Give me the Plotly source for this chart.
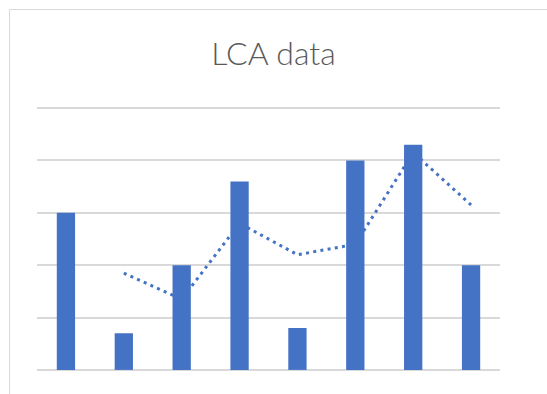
import pandas as pd
import plotly.graph_objects as go

# Sample values
samples = [1, 2, 3, 4, 5, 6, 7, 8]
values = [3, 0.7, 2, 3.6, 0.8, 4, 4.3, 2]
y_ticks = [0, 1, 2, 3, 4, 5]

# Two-period moving-average trendline
trend = pd.Series(values).rolling(2).mean()

BLUE = "#4472C4"
GRID = "#D9D9D9"

W, H = 547, 394
L, R, T, B = 37, 47, 106, 22
Y_MIN, Y_MAX = -0.04, 5.04

fig = go.Figure()

fig.add_trace(go.Scatter(
    x=samples, y=trend,
    mode="lines",
    line=dict(color=BLUE, width=3, dash="3px,4.3px"),
    hoverinfo="skip",
    showlegend=False,
    zorder=0,
))

fig.add_trace(go.Bar(
    x=samples, y=values,
    marker=dict(color=BLUE, line=dict(width=0)),
    showlegend=False,
    zorder=1,
))

pw, ph = W - L - R, H - T - B

# Chart-area frame (continues past the right and bottom edges)
fig.add_shape(
    type="rect", xref="paper", yref="paper",
    x0=(9.5 - L) / pw, x1=(W + 20 - L) / pw,
    y0=-(B + 20) / ph, y1=((H - B) - 9.5) / ph,
    line=dict(color=GRID, width=1), fillcolor="rgba(0,0,0,0)",
    layer="below",
)

fig.update_layout(
    width=W, height=H,
    margin=dict(l=L, r=R, t=T, b=B),
    paper_bgcolor="white", plot_bgcolor="white",
    bargap=0.684,
    title=dict(
        text="LCA data",
        font=dict(family="Lato", size=32, color="#595959", weight=300),
        x=0.5, xanchor="center", xref="container",
        y=1 - 54 / H, yanchor="middle", yref="container",
    ),
    xaxis=dict(
        range=[0.5, 8.5], showgrid=False, zeroline=False,
        showticklabels=False, ticks="", showline=False,
    ),
    yaxis=dict(
        range=[Y_MIN, Y_MAX], tickvals=y_ticks, showticklabels=False,
        showgrid=True, gridcolor=GRID, gridwidth=1.5,
        zeroline=False, ticks="", showline=False,
    ),
)

fig.write_html("out.html")
